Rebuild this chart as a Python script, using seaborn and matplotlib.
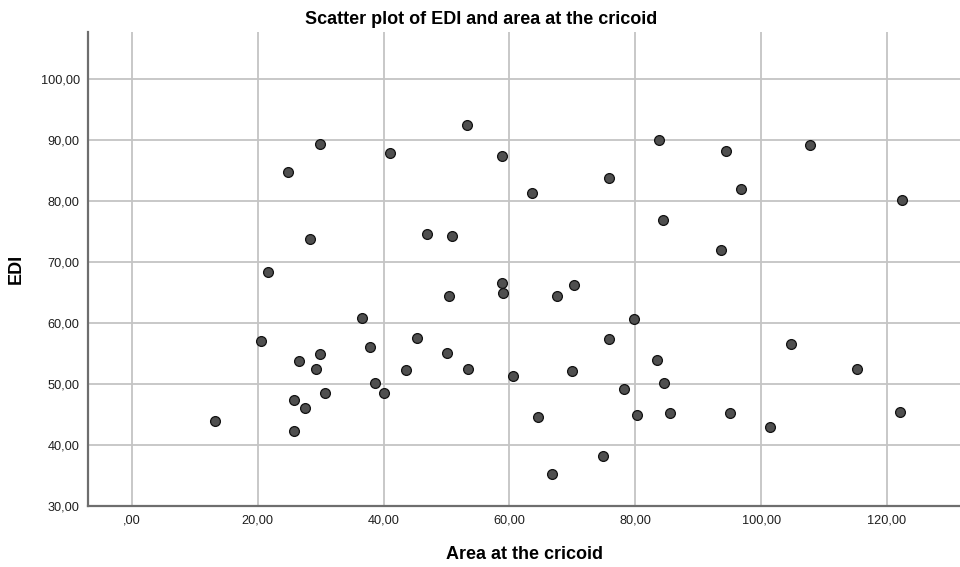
import matplotlib
matplotlib.use("Agg")
import matplotlib.pyplot as plt
from matplotlib.ticker import FuncFormatter
import pandas as pd
import seaborn as sns

# Values
area = [
    21.6, 24.8, 28.3, 29.9, 41.1, 46.9, 50.9, 53.3,
    58.8, 63.6, 75.8, 83.7, 94.4, 96.8, 107.8, 122.4, 84.4, 93.6, 58.8, 70.3,
    50.45, 36.6, 20.6, 45.3, 37.8, 29.9, 50.1, 26.6, 29.3, 43.6, 53.5, 38.6,
    30.7, 40.0, 25.8, 27.5, 13.3, 25.8,
    59.0, 67.5, 79.8, 75.8, 104.7, 83.4, 115.3, 70.0, 60.6, 84.6, 78.2,
    64.6, 80.3, 85.6, 95.1, 101.4, 122.1, 74.8, 66.8,
]
edi = [
    68.3, 84.8, 73.8, 89.4, 87.9, 74.6, 74.2, 92.4,
    87.3, 81.3, 83.7, 90.0, 88.2, 81.9, 89.2, 80.2, 76.9, 71.9, 66.6, 66.3,
    64.5, 60.9, 57.0, 57.5, 56.0, 55.0, 55.1, 53.8, 52.5, 52.3, 52.5, 50.2,
    48.5, 48.5, 47.3, 46.1, 43.9, 42.3,
    65.0, 64.4, 60.65, 57.4, 56.5, 53.9, 52.4, 52.2, 51.3, 50.2, 49.1,
    44.6, 44.9, 45.3, 45.2, 42.95, 45.4, 38.2, 35.2,
]
x_ticks = [0, 20, 40, 60, 80, 100, 120]
y_ticks = [30, 40, 50, 60, 70, 80, 90, 100]


def comma_fmt(v, pos):
    s = f"{v:.2f}".replace(".", ",")
    if s.startswith("0,"):
        s = s[1:]
    return s


def main():
    df = pd.DataFrame({"Area at the cricoid": area, "EDI": edi})

    sns.set_style("white")
    plt.rcParams["font.family"] = ["Liberation Sans", "DejaVu Sans"]

    fig = plt.figure(figsize=(9.6, 5.67), dpi=100)
    ax = fig.add_axes([0.0917, 0.1076, 0.9083, 0.8364])

    sns.scatterplot(data=df, x="Area at the cricoid", y="EDI", ax=ax,
                    s=50, color="#4f4f4f", edgecolor="#111111", linewidth=0.9,
                    zorder=3)

    ax.set_xlim(-6.95, 131.6)
    ax.set_ylim(30, 107.75)
    ax.set_xticks(x_ticks)
    ax.set_yticks(y_ticks)
    ax.xaxis.set_major_formatter(FuncFormatter(comma_fmt))
    ax.yaxis.set_major_formatter(FuncFormatter(comma_fmt))
    ax.tick_params(length=0, labelsize=9.2, colors="#1e1e1e", pad=6)

    ax.grid(True, color="#c4c4c4", linewidth=1.3, zorder=0)
    ax.set_axisbelow(True)
    for side in ["top", "right"]:
        ax.spines[side].set_visible(False)
    for side in ["left", "bottom"]:
        ax.spines[side].set_color("#6e6e6e")
        ax.spines[side].set_linewidth(1.6)

    ax.set_xlabel("Area at the cricoid", fontsize=13, fontweight="bold",
                  color="black", labelpad=14)
    ax.set_ylabel("EDI", fontsize=13, fontweight="bold", color="black")
    ax.yaxis.set_label_coords(-0.0722, 0.5)
    fig.text(0.501, 0.966, "Scatter plot of EDI and area at the cricoid",
             ha="center", va="center", fontsize=13, fontweight="bold",
             color="black")

    fig.savefig("out.png", dpi=100)
    plt.close(fig)


if __name__ == "__main__":
    main()
